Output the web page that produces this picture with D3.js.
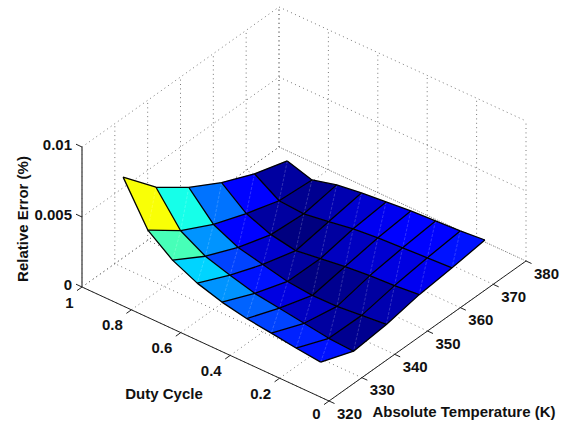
<!DOCTYPE html>
<html><head><meta charset="utf-8">
<script src="https://cdn.jsdelivr.net/npm/d3@7"></script>
<style>html,body{margin:0;padding:0;background:#fff}svg{display:block}
text{font-family:"Liberation Sans",Arial,sans-serif;font-weight:bold;fill:#111}</style>
</head><body><svg id="c" width="572" height="421"></svg>
<script>
const duty = [0.9,0.8,0.7,0.6,0.5,0.4,0.3,0.2,0.1];
const temps = [325,335,345,355,365,375];
const err325 = [7.83,4.86,3.53,2.70,2.16,1.80,1.57,1.32,1.13];
const err335 = [5.44,3.15,2.14,1.60,1.12,.87,.61,.35,.24];
const err345 = [3.76,1.93,1.10,.70,.30,.12,.15,.32,.49];
const err355 = [2.44,1.04,.35,.02,.27,.51,.68,.78,.95];
const err365 = [1.40,.29,.17,.42,.73,.90,1.00,1.10,1.20];
const err375 = [.65,.11,.57,.81,.98,1.15,1.25,1.35,1.52];
const errors = [err325,err335,err345,err355,err365,err375]; // units of 1e-3
const dutyTicks = [0,0.2,0.4,0.6,0.8,1];
const tempTicks = [320,330,340,350,360,370,380];
const zTicks = [0,0.005,0.01];
const zLabels = ["0","0.005","0.01"];

const svg = d3.select("#c");
const ox=329, oy=401;
const dX=d3.scaleLinear([0,1],[0,-247]), dY=d3.scaleLinear([0,1],[0,-114]);
const tX=d3.scaleLinear([320,380],[0,197]), tY=d3.scaleLinear([320,380],[0,-140]);
const zY=d3.scaleLinear([0,0.01],[0,-140]);
const P=(d,T,z)=>[ox+dX(d)+tX(T), oy+dY(d)+tY(T)+zY(z)];
const line=d3.line();

// dotted grid
const grid=svg.append("g").attr("fill","none").attr("stroke","#555").attr("stroke-width",0.8).attr("stroke-dasharray","1 3.4");
const seg=(a,b)=>grid.append("path").attr("d",line([a,b]));
tempTicks.forEach(T=>{ seg(P(0,T,0),P(1,T,0)); seg(P(1,T,0),P(1,T,0.01)); });
dutyTicks.forEach(d=>{ seg(P(d,320,0),P(d,380,0)); seg(P(d,380,0),P(d,380,0.01)); });
zTicks.forEach(z=>{ seg(P(1,320,z),P(1,380,z)); seg(P(1,380,z),P(0,380,z)); });

// axes
const ax=svg.append("g").attr("stroke","#222").attr("stroke-width",1).attr("fill","none");
ax.append("path").attr("d",line([P(1,320,0),P(0,320,0)]));
ax.append("path").attr("d",line([P(0,320,0),P(0,380,0)]));
ax.append("path").attr("d",line([P(1,320,0),P(1,320,0.01)])).attr("stroke","#666").attr("stroke-width",1.6);
dutyTicks.forEach(d=>{ const a=P(d,320,0); ax.append("path").attr("d",line([a,[a[0]-5,a[1]+3.6]])); });
tempTicks.forEach(T=>{ const a=P(0,T,0); ax.append("path").attr("d",line([a,[a[0]+5.5,a[1]+2.5]])); });
zTicks.forEach(z=>{ const a=P(1,320,z); ax.append("path").attr("d",line([a,[a[0]-6,a[1]-2.8]])); });

// surface
const zAll=errors.flat();
const cs=d3.scaleLinear([d3.min(zAll),d3.max(zAll)],[0,1]);
const jet=t=>{t=Math.floor(Math.min(t,0.999)*64)/63;
  const f=v=>Math.round(255*Math.max(0,Math.min(1,v)));
  return `rgb(${f(Math.min(4*t-1.5,-4*t+4.5))},${f(Math.min(4*t-.5,-4*t+3.5))},${f(Math.min(4*t+.5,-4*t+2.5))})`;};
const V=(i,j)=>P(duty[i],temps[j],errors[j][i]/1000);
const surf=svg.append("g");
for(let i=0;i<duty.length-1;i++){
  for(let j=temps.length-2;j>=0;j--){
    const q=[V(i,j),V(i,j+1),V(i+1,j+1),V(i+1,j)];
    const col=jet(cs(errors[j][i+1]));
    surf.append("path").attr("d",line(q)+"Z").attr("fill",col).attr("stroke",col).attr("stroke-width",0.3);
    surf.append("path").attr("d",line([V(i,j+1),V(i+1,j)])).attr("fill","none")
      .attr("stroke","#fff").attr("stroke-opacity",0.24).attr("stroke-width",0.8).attr("stroke-dasharray","3 1.5");
  }
}
for(let i=0;i<duty.length;i++) surf.append("path").attr("d",line(temps.map((_,j)=>V(i,j)))).attr("fill","none").attr("stroke","#000").attr("stroke-width",1.3).attr("stroke-linejoin","round");
for(let j=0;j<temps.length;j++) surf.append("path").attr("d",line(duty.map((_,i)=>V(i,j)))).attr("fill","none").attr("stroke","#000").attr("stroke-width",1.3).attr("stroke-linejoin","round");

// labels
const fs=15;
const txt=(x,y,s,a)=>svg.append("text").attr("x",x).attr("y",y).attr("text-anchor",a||"middle").attr("dominant-baseline","central").attr("font-size",fs).text(s);
zTicks.forEach((z,k)=>{const a=P(1,320,z); txt(a[0]-10,a[1]-2.5,zLabels[k],"end");});
dutyTicks.forEach(d=>{const a=P(d,320,0); txt(a[0]-8.5,a[1]+(d===0?12:15),String(d),"end");});
tempTicks.forEach(T=>{const a=P(0,T,0); txt(a[0]+20.5,a[1]+12,String(T));});
txt(164,393,"Duty Cycle");
txt(464,411,"Absolute Temperature (K)");
svg.append("text").attr("transform","translate(22,219) rotate(-90)").attr("text-anchor","middle").attr("dominant-baseline","central").attr("font-size",fs).text("Relative Error (%)");
</script></body></html>
